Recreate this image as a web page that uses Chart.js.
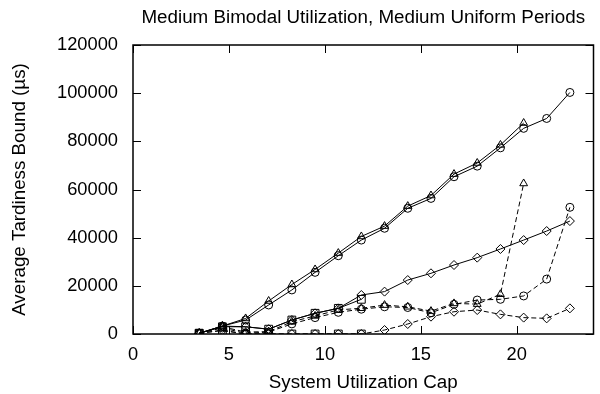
<!DOCTYPE html>
<html>
<head>
<meta charset="utf-8">
<script src="https://cdn.jsdelivr.net/npm/chart.js@4/dist/chart.umd.min.js"></script>
<style>
  html, body { margin: 0; padding: 0; background: #fff; }
  canvas { display: block; }
</style>
</head>
<body>
<canvas id="myChart" width="600" height="394"></canvas>
<script>
// utilization cap of each measured point
const utilization = [3.45, 4.66, 5.87, 7.07, 8.28, 9.49, 10.70, 11.90, 13.11, 14.32, 15.53, 16.73, 17.94, 19.15, 20.36, 21.56, 22.77];

// solid lines
const solidCircle = [300, 3300, 5800, 12050, 18300, 25600, 32500, 39000, 43900, 52200, 56300, 65300, 69700, 77300, 85400, 89500, 100300];
const solidTriangle = [300, 3300, 6450, 13700, 20550, 26800, 33600, 40500, 44800, 53100, 57500, 66400, 71000, 78500, 87600];
const solidDiamond = [300, 3300, 3000, 2000, 5800, 8600, 10650, 16200, 17600, 22400, 25200, 28650, 31700, 35300, 39000, 42750, 46900];
const solidSquare = [300, 3000, 3000, 2000, 5800, 8600, 10650, 14400];

// dashed lines
const dashedTriangle = [300, 3000, 800, 1000, 5100, 7500, 10000, 10700, 12000, 11300, 9500, 12700, 12400, 16500, 62500];
const dashedCircle = [300, 2500, 300, 800, 4200, 6800, 9000, 10300, 11300, 11000, 8800, 12300, 14100, 14400, 15800, 22800, 52600];
const dashedSquare = [300, 1500, 0, 0, 0, 0, 0, 0];
const dashedDiamond = [300, 1500, 0, 0, 0, 0, 0, 0, 1650, 4150, 7200, 9250, 9950, 8150, 6800, 6500, 10650];

const xTicks = [0, 5, 10, 15, 20];
const yTicks = [0, 20000, 40000, 60000, 80000, 100000, 120000];
const chartTitle = 'Medium Bimodal Utilization, Medium Uniform Periods';

const font = "'Liberation Sans', Arial, Helvetica, sans-serif";

function series(values, style, radius, dashed) {
    return {
        data: values.map((v, i) => ({x: utilization[i], y: v})),
        borderColor: '#000',
        borderWidth: 1,
        borderDash: dashed ? [5, 3] : [],
        pointStyle: style,
        pointRadius: radius,
        pointHoverRadius: radius,
        pointBorderColor: '#000',
        pointBackgroundColor: 'rgba(0,0,0,0)',
        pointBorderWidth: 1,
        fill: false,
        tension: 0
    };
}

// gnuplot style frame with inward ticks on all four sides, title centred over the plot
const framePlugin = {
    id: 'frame',
    afterDatasetsDraw(chart) {
        const {ctx, chartArea: a, scales} = chart;
        const len = 8;
        ctx.save();
        ctx.strokeStyle = '#000';
        ctx.lineWidth = 1;
        ctx.beginPath();
        xTicks.forEach(v => {
            const px = Math.round(scales.x.getPixelForValue(v)) + 0.5;
            ctx.moveTo(px, a.bottom); ctx.lineTo(px, a.bottom - len);
            ctx.moveTo(px, a.top); ctx.lineTo(px, a.top + len);
        });
        yTicks.forEach(v => {
            const py = Math.round(scales.y.getPixelForValue(v)) + 0.5;
            ctx.moveTo(a.left, py); ctx.lineTo(a.left + len, py);
            ctx.moveTo(a.right, py); ctx.lineTo(a.right - len, py);
        });
        ctx.stroke();
        ctx.lineWidth = 1.5;
        ctx.strokeRect(a.left, a.top, a.right - a.left, a.bottom - a.top);

        ctx.fillStyle = '#000';
        ctx.font = '18.8px ' + font;
        ctx.textAlign = 'center';
        ctx.textBaseline = 'middle';
        ctx.fillText(chartTitle, (a.left + a.right) / 2, 18);
        ctx.restore();
    }
};

let ctx = document.getElementById("myChart").getContext('2d');
new Chart(ctx, {
    type: 'line',
    data: {
        datasets: [
            series(solidCircle, 'circle', 4, false),
            series(solidTriangle, 'triangle', 4.5, false),
            series(solidDiamond, 'rectRot', 4.5, false),
            series(solidSquare, 'rect', 5.5, false),
            series(dashedTriangle, 'triangle', 4.5, true),
            series(dashedCircle, 'circle', 4, true),
            series(dashedSquare, 'rect', 5.5, true),
            series(dashedDiamond, 'rectRot', 4.5, true)
        ]
    },
    options: {
        responsive: false,
        devicePixelRatio: 1,
        animation: false,
        layout: {padding: {left: 0, right: 1, top: 45, bottom: 0}},
        plugins: {
            legend: {display: false},
            tooltip: {enabled: false},
            title: {display: false}
        },
        scales: {
            x: {
                type: 'linear',
                min: 0,
                max: 24,
                afterBuildTicks: scale => { scale.ticks = xTicks.map(v => ({value: v})); },
                afterFit: scale => { scale.height = 60; },
                grid: {display: false},
                border: {display: false},
                ticks: {color: '#000', padding: 2, maxRotation: 0, font: {family: font, size: 18.3}},
                title: {
                    display: true,
                    text: 'System Utilization Cap',
                    color: '#000',
                    font: {family: font, size: 18.8},
                    padding: {top: 0, bottom: 0}
                }
            },
            y: {
                min: 0,
                max: 120000,
                afterBuildTicks: scale => { scale.ticks = yTicks.map(v => ({value: v})); },
                afterFit: scale => { scale.width = 133; },
                grid: {display: false},
                border: {display: false},
                ticks: {color: '#000', padding: 7, callback: v => String(v), font: {family: font, size: 18.3}},
                title: {
                    display: true,
                    text: 'Average Tardiness Bound (µs)',
                    color: '#000',
                    font: {family: font, size: 18.8},
                    padding: {top: 9, bottom: 0}
                }
            }
        }
    },
    plugins: [framePlugin]
});
</script>
</body>
</html>
